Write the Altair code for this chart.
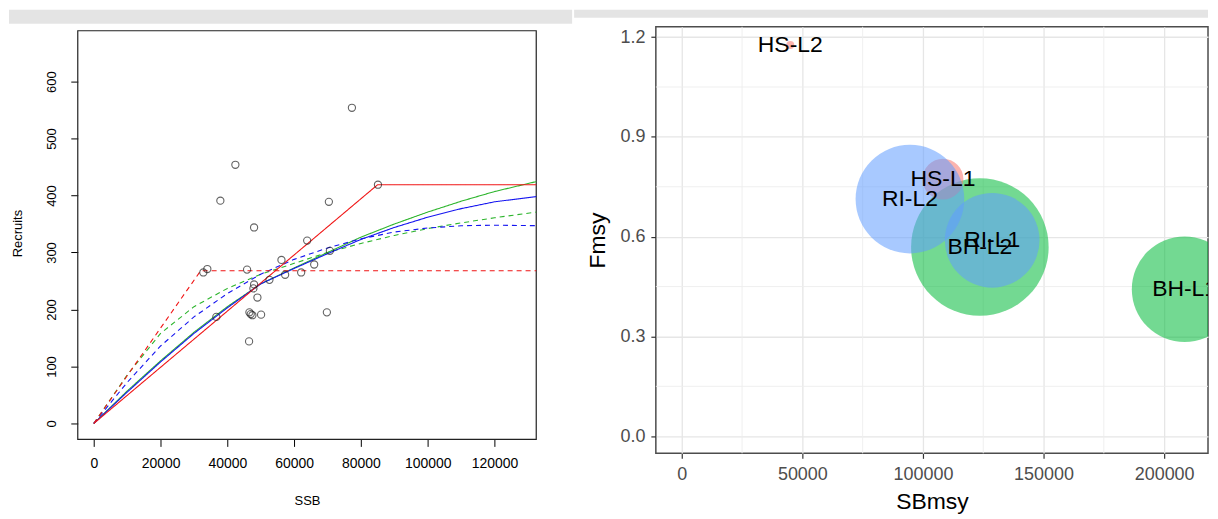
import altair as alt
import pandas as pd

# ---------------- Left panel: stock-recruitment ----------------
ssb = [32800, 34000, 36700, 37900, 42400, 45900, 46500, 46600, 47000, 47500,
       48000, 48000, 47800, 49000, 50100, 52600, 56200, 57300, 62100, 63900,
       66000, 69800, 70400, 70700, 77300, 85100]
recruits = [265, 271, 187, 391, 454, 270, 144, 195, 192, 190,
            344, 244, 237, 221, 191, 252, 287, 261, 265, 321,
            279, 195, 389, 303, 554, 419]

curve_x = [0, 10000, 20000, 30000, 40000, 50000, 60000, 70000, 80000,
           90000, 100000, 110000, 120000, 135000]
bh_l1 = [0, 57, 110, 160, 205, 245, 273, 300, 327, 350, 371, 390, 407, 428]
bh_l2 = [0, 85, 158, 205, 237, 262, 281, 300, 316, 330, 342, 352, 361, 373]
ri_l1 = [0, 55, 108, 158, 203, 245, 272, 298, 323, 344, 362, 377, 389, 400]
ri_l2 = [0, 72, 136, 187, 228, 262, 288, 308, 324, 336, 343, 347, 348, 347]
hs_l1_x = [0, 85000, 135000]
hs_l1_y = [0, 419, 419]
hs_l2_x = [0, 32000, 135000]
hs_l2_y = [0, 268, 268]

# ---------------- Right panel: reference points ----------------
labels = ["BH-L1", "BH-L2", "HS-L1", "HS-L2", "RI-L1", "RI-L2"]
models = ["BH", "BH", "HS", "HS", "RI", "RI"]
sbmsy = [208500, 123600, 108300, 45000, 128700, 94600]
fmsy = [0.442, 0.569, 0.773, 1.176, 0.589, 0.713]
bubble = [2809, 4761, 420, 16, 2256, 2970]

minor_x = [25000, 75000, 125000, 175000]
minor_y = [0.15, 0.45, 0.75, 1.05]

FONT = "Liberation Sans"

# ---- build tables ----
rows = []
for name, ys, dash in [("BH-L1", bh_l1, "solid"), ("BH-L2", bh_l2, "dash"),
                       ("RI-L1", ri_l1, "solid"), ("RI-L2", ri_l2, "dash")]:
    for x, y in zip(curve_x, ys):
        rows.append({"x": x, "y": y, "curve": name, "lty": dash})
for name, xs, ys, dash in [("HS-L1", hs_l1_x, hs_l1_y, "solid"),
                           ("HS-L2", hs_l2_x, hs_l2_y, "dash")]:
    for x, y in zip(xs, ys):
        rows.append({"x": x, "y": y, "curve": name, "lty": dash})
curves = pd.DataFrame(rows)
pts = pd.DataFrame({"SSB": ssb, "Recruits": recruits})

LW, LH = 460, 414
xs_left = alt.Scale(domain=[-4800, 132500], nice=False, zero=False)
ys_left = alt.Scale(domain=[-28, 696.2], nice=False, zero=False)

one = pd.DataFrame({"k": [0]})

left_bar = alt.Chart(one).mark_rect(color="#E4E4E4").encode(
    x=alt.value(-69), x2=alt.value(496), y=alt.value(-17), y2=alt.value(-3))
left_box = alt.Chart(one).mark_rect(filled=False, stroke="#222222", strokeWidth=1.2).encode(
    x=alt.value(0), x2=alt.value(LW), y=alt.value(4), y2=alt.value(LH))

left_lines = alt.Chart(curves).mark_line(strokeWidth=1.1, clip=True).encode(
    x=alt.X("x:Q", scale=xs_left,
            axis=alt.Axis(values=[0, 20000, 40000, 60000, 80000, 100000, 120000],
                          format="d", domain=False, grid=False, tickColor="black",
                          tickSize=7, labelFontSize=14, labelColor="black",
                          labelFont=FONT, labelPadding=10, title="SSB",
                          titleFont=FONT, titleFontSize=13, titleFontWeight="normal",
                          titleColor="black", titlePadding=24)),
    y=alt.Y("y:Q", scale=ys_left,
            axis=alt.Axis(values=[0, 100, 200, 300, 400, 500, 600], domain=False,
                          grid=False, tickColor="black", tickSize=7, labelAngle=270,
                          labelAlign="center", labelBaseline="bottom",
                          labelFontSize=13, labelColor="black", labelFont=FONT,
                          labelPadding=12, title="Recruits", titleFont=FONT,
                          titleFontSize=13, titleFontWeight="normal",
                          titleColor="black", titlePadding=21)),
    color=alt.Color("curve:N", legend=None,
                    scale=alt.Scale(domain=["BH-L1", "BH-L2", "RI-L1", "RI-L2", "HS-L1", "HS-L2"],
                                    range=["#2DB52D", "#2DB52D", "#1515F0", "#1515F0", "#F01515", "#F01515"])),
    strokeDash=alt.StrokeDash("lty:N", legend=None,
                              scale=alt.Scale(domain=["solid", "dash"], range=[[1, 0], [5, 4]])),
    detail="curve:N",
)

left_pts = alt.Chart(pts).mark_point(shape="circle", filled=False, color="#222222",
                                     size=52, strokeWidth=1.1).encode(
    x=alt.X("SSB:Q", scale=xs_left), y=alt.Y("Recruits:Q", scale=ys_left))

left = alt.layer(left_bar, left_box, left_lines, left_pts).properties(
    width=LW, height=LH, view=alt.ViewBackground(stroke="transparent"))

# ---------------- Right chart ----------------
RW, RH = 554, 428
xs_r = alt.Scale(domain=[-10740, 218186], nice=False, zero=False)
ys_r = alt.Scale(domain=[-0.0515, 1.231], nice=False, zero=False)

x_axis_r = alt.Axis(values=[0, 50000, 100000, 150000, 200000], format="d",
                    domain=False, grid=True, gridColor="#E6E6E6", gridWidth=1.3,
                    tickColor="#333333", tickSize=5, tickWidth=1.2,
                    labelFontSize=18, labelColor="#4D4D4D", labelFont=FONT,
                    labelPadding=7, title="SBmsy", titleFont=FONT,
                    titleFontSize=23, titleFontWeight="normal",
                    titleColor="black", titlePadding=7)
y_axis_r = alt.Axis(values=[0, 0.3, 0.6, 0.9, 1.2], format=".1f", domain=False,
                    grid=True, gridColor="#E6E6E6", gridWidth=1.3,
                    tickColor="#333333", tickSize=5, tickWidth=1.2,
                    labelFontSize=18, labelColor="#4D4D4D", labelFont=FONT,
                    labelPadding=6, title="Fmsy", titleFont=FONT,
                    titleFontSize=23, titleFontWeight="normal",
                    titleColor="black", titlePadding=10)

ref = pd.DataFrame({"label": labels, "model": models, "SBmsy": sbmsy,
                    "Fmsy": fmsy, "w": bubble})
mx = pd.DataFrame({"v": minor_x})
my = pd.DataFrame({"v": minor_y})

right_bar = alt.Chart(one).mark_rect(color="#E4E4E4").encode(
    x=alt.value(-82), x2=alt.value(RW), y=alt.value(-17), y2=alt.value(-9))

minor_v = alt.Chart(mx).mark_rule(color="#EDEDED", strokeWidth=0.9).encode(
    x=alt.X("v:Q", scale=xs_r, axis=x_axis_r))
minor_h = alt.Chart(my).mark_rule(color="#EDEDED", strokeWidth=0.9).encode(
    y=alt.Y("v:Q", scale=ys_r, axis=y_axis_r))

bubbles = alt.Chart(ref).mark_circle(opacity=0.55, clip=True).encode(
    x=alt.X("SBmsy:Q", scale=xs_r, axis=x_axis_r),
    y=alt.Y("Fmsy:Q", scale=ys_r, axis=y_axis_r),
    color=alt.Color("model:N", legend=None,
                    scale=alt.Scale(domain=["BH", "HS", "RI"],
                                    range=["#00BA38", "#F8766D", "#619CFF"])),
    size=alt.Size("w:Q", legend=None, scale=alt.Scale(domain=[0, 4761], range=[0, 19044])),
)

texts = alt.Chart(ref).mark_text(fontSize=23, font=FONT, color="black", clip=True).encode(
    x=alt.X("SBmsy:Q", scale=xs_r, axis=x_axis_r),
    y=alt.Y("Fmsy:Q", scale=ys_r, axis=y_axis_r), text="label:N")

right = alt.layer(right_bar, minor_v, minor_h, bubbles, texts).properties(
    width=RW, height=RH, view=alt.ViewBackground(stroke="#4D4D4D", strokeWidth=1.5))

chart = alt.hconcat(left, right, spacing=0).properties(padding=0).resolve_scale(
    color="independent", size="independent", strokeDash="independent",
    x="independent", y="independent").configure(font=FONT)

chart.save("out.html", embed_options={"renderer": "svg", "actions": False})
